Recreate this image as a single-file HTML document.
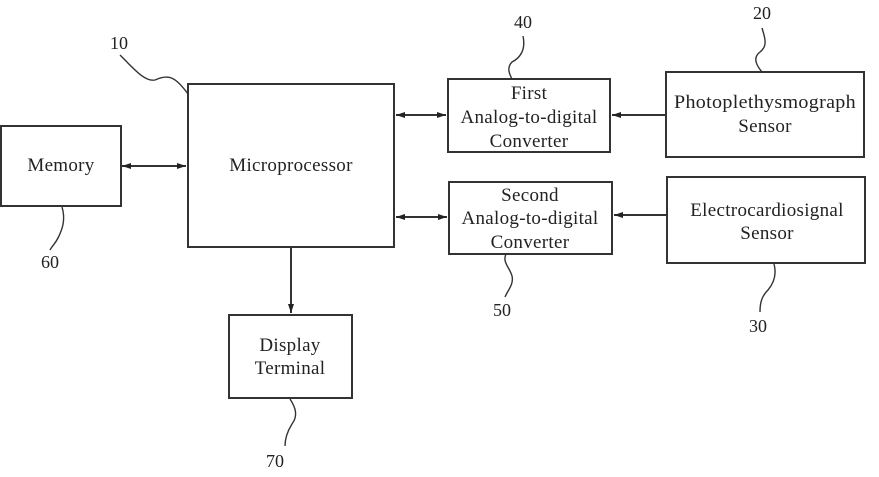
<!DOCTYPE html>
<html><head><style>body{margin:0;background:#fff}svg{display:block}text{font-family:"Liberation Serif",serif;fill:#222}</style></head>
<body>
<svg width="879" height="477" viewBox="0 0 879 477" xmlns="http://www.w3.org/2000/svg">
<defs>
<marker id="a" markerWidth="10" markerHeight="8" refX="9" refY="4" orient="auto-start-reverse" markerUnits="userSpaceOnUse"><path d="M0,1 L9,4 L0,7 z" fill="#222"/></marker>
</defs>
<g fill="none" stroke="#333" stroke-width="2">
<rect x="1" y="126" width="120" height="80"/>
<rect x="188" y="84" width="206" height="163"/>
<rect x="448" y="79" width="162" height="73"/>
<rect x="666" y="72" width="198" height="85"/>
<rect x="449" y="182" width="163" height="72"/>
<rect x="667" y="177" width="198" height="86"/>
<rect x="229" y="315" width="123" height="83"/>
<line x1="122" y1="166" x2="186" y2="166" marker-start="url(#a)" marker-end="url(#a)"/>
<line x1="396" y1="115" x2="446" y2="115" marker-start="url(#a)" marker-end="url(#a)"/>
<line x1="665" y1="115" x2="612" y2="115" marker-end="url(#a)"/>
<line x1="396" y1="217" x2="447" y2="217" marker-start="url(#a)" marker-end="url(#a)"/>
<line x1="666" y1="215" x2="614" y2="215" marker-end="url(#a)"/>
<line x1="291" y1="248" x2="291" y2="313" marker-end="url(#a)"/>
<path d="M120,55 C135,70 145,82 155,80 C168,74 175,76 188,94" stroke-width="1.4"/>
<path d="M523,36 C526,50 520,58 512,62 C506,68 510,75 512,79" stroke-width="1.4"/>
<path d="M762,28 C765,38 768,46 760,52 C752,58 757,66 762,72" stroke-width="1.4"/>
<path d="M62,207 C66,220 62,230 58,238 C55,244 52,246 50,250" stroke-width="1.4"/>
<path d="M506,254 C502,262 510,268 512,276 C514,284 508,290 505,297" stroke-width="1.4"/>
<path d="M774,264 C777,275 773,284 768,290 C762,296 760,302 760,312" stroke-width="1.4"/>
<path d="M290,399 C296,408 298,416 292,424 C287,432 285,440 285,446" stroke-width="1.4"/>
</g>
<g font-size="19" text-anchor="middle" letter-spacing="0.3">
<text x="61" y="171">Memory</text>
<text x="291" y="171">Microprocessor</text>
<text x="529" y="99">First</text>
<text x="529" y="123">Analog-to-digital</text>
<text x="529" y="147">Converter</text>
<text x="765" y="108" textLength="182" lengthAdjust="spacingAndGlyphs">Photoplethysmograph</text>
<text x="765" y="132">Sensor</text>
<text x="530" y="201">Second</text>
<text x="530" y="224">Analog-to-digital</text>
<text x="530" y="248">Converter</text>
<text x="767" y="216">Electrocardiosignal</text>
<text x="767" y="239">Sensor</text>
<text x="290" y="351">Display</text>
<text x="290" y="374">Terminal</text>
</g>
<g font-size="18" text-anchor="middle">
<text x="119" y="49">10</text>
<text x="523" y="28">40</text>
<text x="762" y="19">20</text>
<text x="50" y="268">60</text>
<text x="502" y="316">50</text>
<text x="758" y="332">30</text>
<text x="275" y="467">70</text>
</g>
</svg>
</body></html>
